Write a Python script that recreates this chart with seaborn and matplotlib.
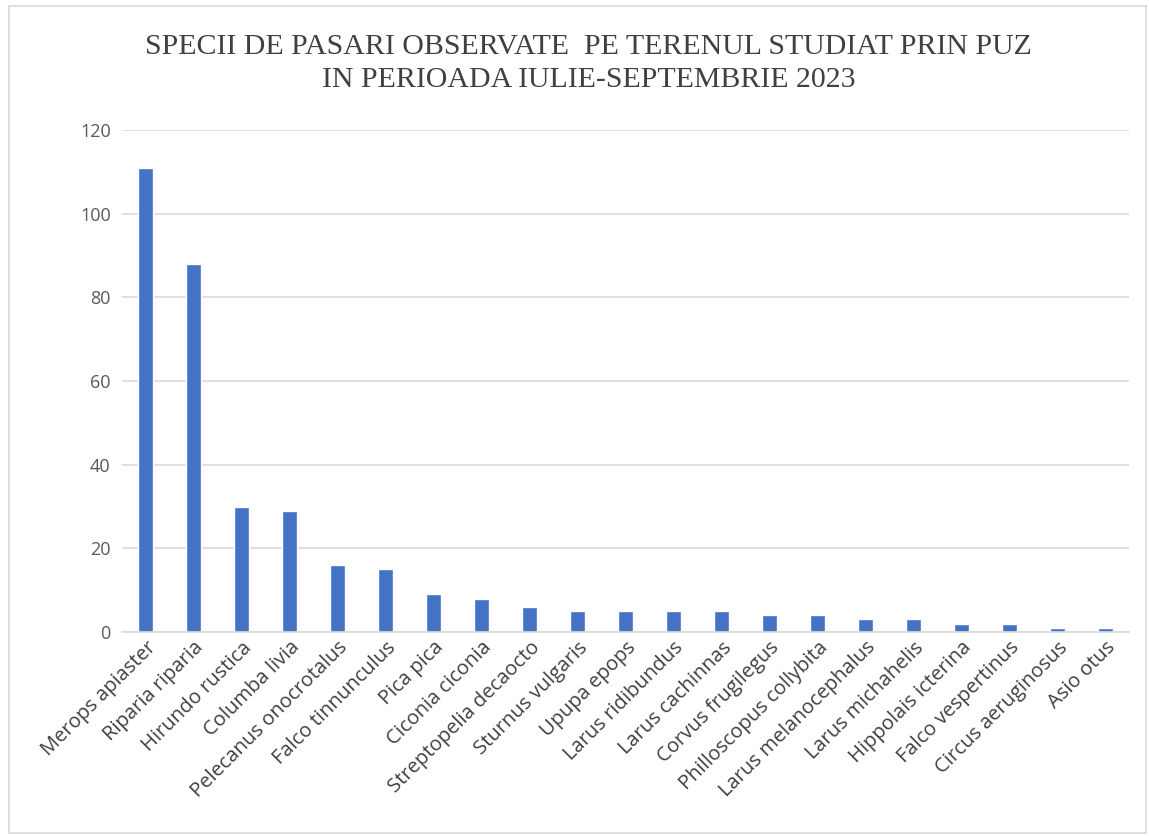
import matplotlib
matplotlib.use("Agg")
import matplotlib.pyplot as plt
import seaborn as sns
import pandas as pd
from matplotlib.patches import Rectangle

species = [
    "Merops apiaster", "Riparia riparia", "Hirundo rustica", "Columba livia",
    "Pelecanus onocrotalus", "Falco tinnunculus", "Pica pica", "Ciconia ciconia",
    "Streptopelia decaocto", "Sturnus vulgaris", "Upupa epops", "Larus ridibundus",
    "Larus cachinnas", "Corvus frugilegus", "Philloscopus collybita",
    "Larus melanocephalus", "Larus michahelis", "Hippolais icterina",
    "Falco vespertinus", "Circus aeruginosus", "Asio otus",
]
counts = [111, 88, 30, 29, 16, 15, 9, 8, 6, 5, 5, 5, 5, 4, 4, 3, 3, 2, 2, 1, 1]
y_ticks = [0, 20, 40, 60, 80, 100, 120]

df = pd.DataFrame({"species": species, "count": counts})

sns.set_theme(style="white")
plt.rcParams["font.family"] = ["Open Sans", "DejaVu Sans"]

fig = plt.figure(figsize=(11.49, 8.36), dpi=100)
ax = fig.add_axes([0.106, 0.244, 0.877, 0.6005])

sns.barplot(data=df, x="species", y="count", color="#4472C4",
            width=0.32, saturation=1, ax=ax)

ax.set_ylim(0, 120)
ax.set_yticks(y_ticks)
ax.set_xlim(-0.5, len(species) - 0.5)
ax.yaxis.grid(True, color="#D9D9D9", linewidth=1.2)
ax.set_axisbelow(True)
for side in ["top", "right", "left"]:
    ax.spines[side].set_visible(False)
ax.spines["bottom"].set_color("#D9D9D9")
ax.spines["bottom"].set_linewidth(1.2)
ax.set_xlabel("")
ax.set_ylabel("")
ax.tick_params(axis="x", length=0, colors="#404040", labelsize=14.5, pad=4)
ax.tick_params(axis="y", length=0, colors="#595959", labelsize=13, pad=8)
plt.setp(ax.get_xticklabels(), rotation=45, ha="right", rotation_mode="anchor")

fig.text(0.512, 0.944, "SPECII DE PASARI OBSERVATE  PE TERENUL STUDIAT PRIN PUZ",
         ha="center", va="center", fontsize=21.5, color="#404040",
         family="Liberation Serif")
fig.text(0.512, 0.904, "IN PERIOADA IULIE-SEPTEMBRIE 2023",
         ha="center", va="center", fontsize=21.5, color="#404040",
         family="Liberation Serif")

# light frame around the chart area
fig.patches.append(Rectangle((0.0075, 0.003), 0.99, 0.99, transform=fig.transFigure,
                             fill=False, edgecolor="#D9D9D9", linewidth=1.2))

fig.savefig("out.png", dpi=100)
